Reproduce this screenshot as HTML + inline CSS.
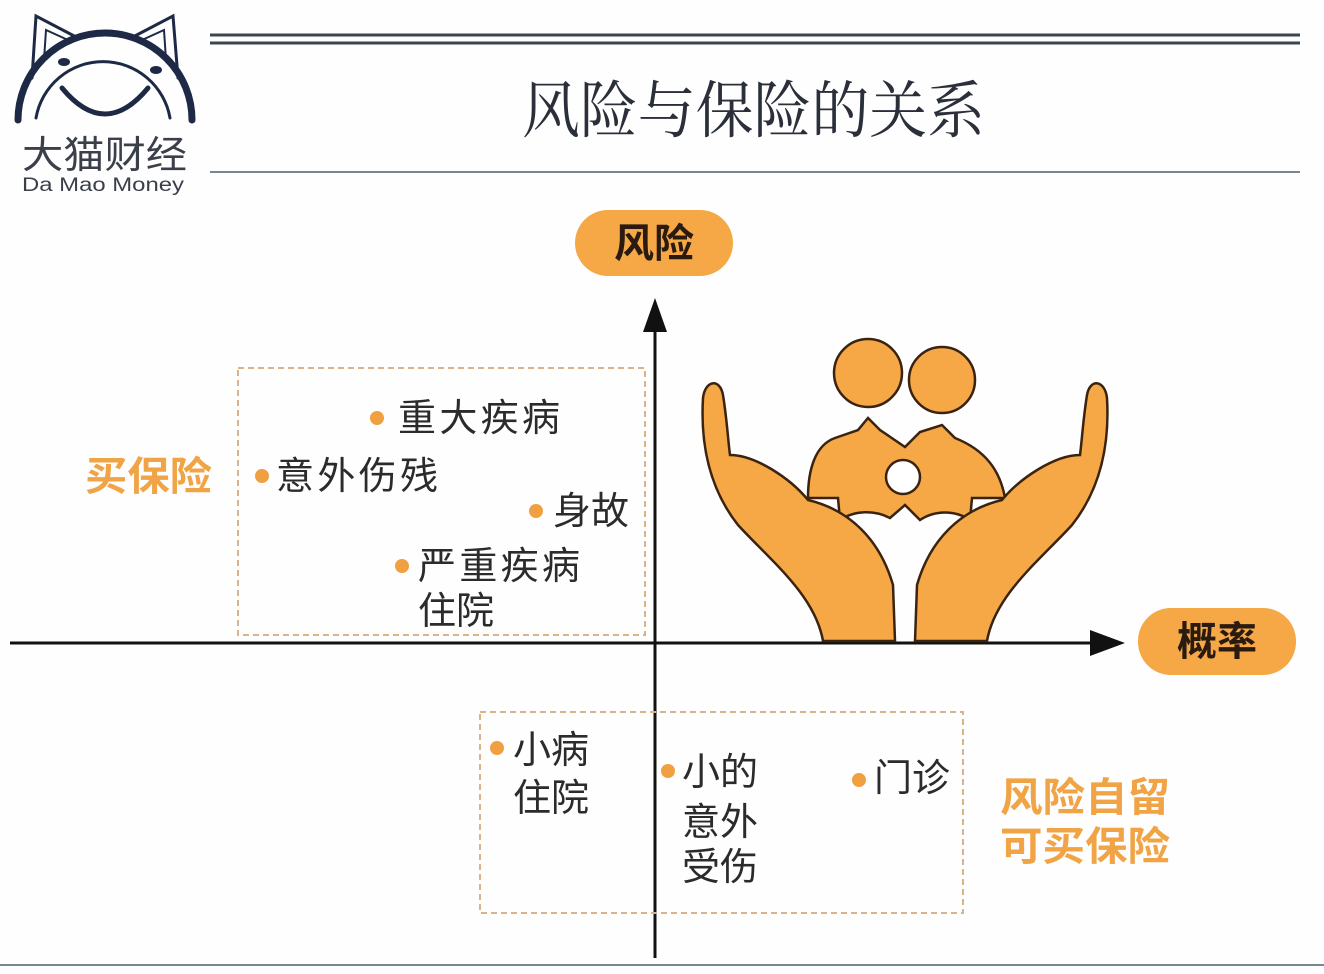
<!DOCTYPE html>
<html><head><meta charset="utf-8"><style>
html,body{margin:0;padding:0;background:#fff;width:1324px;height:974px;overflow:hidden}
svg{display:block}
.t{font-family:"Liberation Sans","Noto Sans CJK SC",sans-serif;font-size:38px;fill:#2b2b2b}
.o{font-family:"Liberation Sans","Noto Sans CJK SC",sans-serif;font-size:40px;fill:#f0a445;font-weight:bold}
</style></head><body>
<svg width="1324" height="974" viewBox="0 0 1324 974" xmlns="http://www.w3.org/2000/svg">
<rect width="1324" height="974" fill="#fefefe"/>
<g fill="none" stroke="#1e2a45" stroke-linecap="round">
<path d="M18 120 A84 84 0 0 1 192 120" stroke-width="7"/>
<path d="M36 118 A68 68 0 0 1 170 118" stroke-width="3"/>
<path d="M32 78 L36 16 L78 38" stroke-width="3"/>
<path d="M44 60 L46 30 L68 40" stroke-width="2"/>
<path d="M178 78 L173 16 L131 38" stroke-width="3"/>
<path d="M166 60 L164 30 L142 40" stroke-width="2"/>
<path d="M62 88 Q105 140 148 88" stroke-width="5"/>
</g>
<ellipse cx="64" cy="62" rx="6" ry="4" fill="#1e2a45"/>
<ellipse cx="156" cy="70" rx="6" ry="4" fill="#1e2a45"/>
<text x="22" y="168" textLength="165" lengthAdjust="spacingAndGlyphs" font-family="Liberation Sans,Noto Sans CJK SC,sans-serif" font-size="38" fill="#3a3f4a">大猫财经</text>
<text x="22" y="191" textLength="162" lengthAdjust="spacingAndGlyphs" font-family="Liberation Sans,sans-serif" font-size="19" fill="#3a3f4a">Da  Mao Money</text>
<line x1="210" y1="35" x2="1300" y2="35" stroke="#3a4550" stroke-width="3"/>
<line x1="210" y1="43" x2="1300" y2="43" stroke="#3a4550" stroke-width="3"/>
<line x1="210" y1="172" x2="1300" y2="172" stroke="#7a8590" stroke-width="2"/>
<line x1="0" y1="965" x2="1324" y2="965" stroke="#7a8590" stroke-width="2"/>
<text x="522" y="132" textLength="463" lengthAdjust="spacingAndGlyphs" font-family="Liberation Serif,Noto Serif CJK SC,serif" font-size="62" fill="#2a2f3a">风险与保险的关系</text>
<rect x="575" y="210" width="158" height="66" rx="33" fill="#f5a845"/>
<text x="654" y="257" text-anchor="middle" font-family="Liberation Sans,Noto Sans CJK SC,sans-serif" font-size="40" font-weight="bold" fill="#2a1a10">风险</text>
<rect x="1138" y="608" width="158" height="67" rx="33" fill="#f5a845"/>
<text x="1217" y="655" text-anchor="middle" font-family="Liberation Sans,Noto Sans CJK SC,sans-serif" font-size="40" font-weight="bold" fill="#2a1a10">概率</text>
<line x1="655" y1="330" x2="655" y2="958" stroke="#111" stroke-width="3"/>
<polygon points="655,298 643,332 667,332" fill="#111"/>
<line x1="10" y1="643" x2="1095" y2="643" stroke="#111" stroke-width="3"/>
<polygon points="1125,643 1090,630 1090,656" fill="#111"/>
<rect x="238" y="368" width="407" height="267" fill="none" stroke="#d9b48a" stroke-width="2" stroke-dasharray="6,4"/>
<rect x="480" y="712" width="483" height="201" fill="none" stroke="#d9b48a" stroke-width="2" stroke-dasharray="6,4"/>
<g fill="#f5a845" stroke="#3a2310" stroke-width="2.5">
<path d="M808 498 C808 470 815 445 835 438 L858 430 L868 418 L880 430 L905 447 L920 432 L942 425 L955 438 C985 450 1000 470 1005 498 L972 498 L970 520 C955 510 935 510 920 520 L905 505 L890 518 C875 510 855 510 840 520 L838 498 Z"/>
<circle cx="868" cy="373" r="34"/>
<circle cx="942" cy="380" r="33"/>
<path d="M823 641 C815 595 770 560 738 525 C712 492 700 450 703 398 C705 380 720 378 723 395 C727 420 728 440 730 455 C755 455 790 478 808 500 C850 510 880 540 893 585 L895 641 Z"/>
<path d="M987 641 C995 595 1040 560 1072 525 C1098 492 1110 450 1107 398 C1105 380 1090 378 1087 395 C1083 420 1082 440 1080 455 C1055 455 1020 478 1002 500 C960 510 930 540 917 585 L915 641 Z"/>
</g>
<circle cx="903" cy="477" r="17" fill="#fff" stroke="#3a2310" stroke-width="2.5"/>
<text class="o" x="85" y="490" textLength="127" lengthAdjust="spacingAndGlyphs">买保险</text>
<g fill="#f0a040">
<circle cx="377" cy="418" r="7"/><circle cx="262" cy="476" r="7"/><circle cx="536" cy="511" r="7"/><circle cx="402" cy="566" r="7"/>
<circle cx="497" cy="748" r="7"/><circle cx="668" cy="771" r="7"/><circle cx="859" cy="780" r="7"/>
</g>
<text class="t" x="398" y="431" textLength="162">重大疾病</text>
<text class="t" x="276" y="489" textLength="162">意外伤残</text>
<text class="t" x="553" y="524">身故</text>
<text class="t" x="418" y="579" textLength="162">严重疾病</text>
<text class="t" x="418" y="624">住院</text>
<text class="t" x="513" y="763">小病</text>
<text class="t" x="513" y="811">住院</text>
<text class="t" x="682" y="785">小的</text>
<text class="t" x="682" y="835">意外</text>
<text class="t" x="682" y="880">受伤</text>
<text class="t" x="874" y="791">门诊</text>
<text class="o" x="1000" y="811" textLength="170" lengthAdjust="spacingAndGlyphs">风险自留</text>
<text class="o" x="1000" y="860" textLength="170" lengthAdjust="spacingAndGlyphs">可买保险</text>
</svg>
</body></html>
